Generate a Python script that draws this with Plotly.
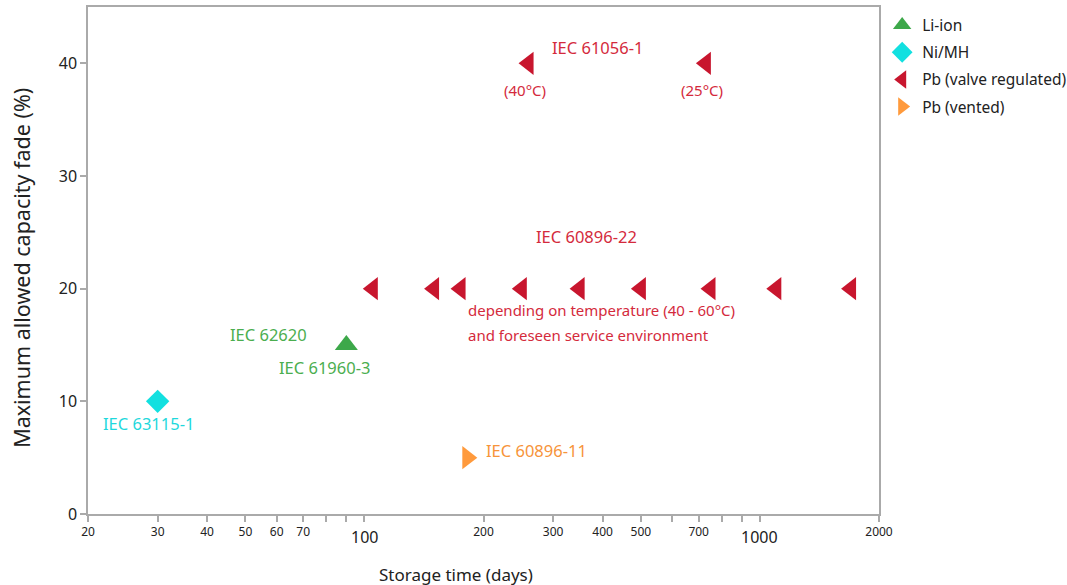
import math
import plotly.graph_objects as go

# ---------------- data ----------------
liion_x = [90]
liion_y = [15]

nimh_x = [30]
nimh_y = [10]

pb_vrla_x = [260, 730, 105, 150, 175, 250, 350, 500, 750, 1100, 1700]
pb_vrla_y = [40, 40, 20, 20, 20, 20, 20, 20, 20, 20, 20]

pb_vented_x = [182]
pb_vented_y = [5]

series_names = ["Li-ion", "Ni/MH", "Pb (valve regulated)", "Pb (vented)"]

x_tickvals = [20, 30, 40, 50, 60, 70, 80, 90, 100, 200, 300, 400, 500, 600, 700, 800, 900, 1000, 2000]
x_ticktext = ["20", "30", "40", "50", "60", "70", "", "", "", "200", "300", "400", "500", "", "700", "", "", "", "2000"]
x_major_labels = [100, 1000]
y_tickvals = [0, 10, 20, 30, 40]

# label texts with (x in days, y in %) anchor, alignment, colour key, kind
labels = [
    ("IEC 61056-1", 294, 41.42, "left", "red", "std"),
    ("(40°C)", 254, 37.6, "center", "red", "note"),
    ("(25°C)", 715, 37.6, "center", "red", "note"),
    ("IEC 60896-22", 364, 24.66, "center", "red", "std"),
    ("depending on temperature (40 - 60°C)", 181, 18.09, "left", "red", "note"),
    ("and foreseen service environment", 181, 15.88, "left", "red", "note"),
    ("IEC 62620", 57.3, 15.96, "center", "green", "std"),
    ("IEC 61960-3", 79.4, 13.04, "center", "green", "std"),
    ("IEC 63115-1", 28.5, 8.07, "center", "cyan", "std"),
    ("IEC 60896-11", 200, 5.68, "left", "orange", "std"),
]

# ---------------- style ----------------
FONT = "Noto Sans"
marker_col = {"green": "#3DA84A", "cyan": "#12E0E0", "red": "#C8162E", "orange": "#FF9A3C"}
text_col = {"green": "#4BAE4F", "cyan": "#1ED8DC", "red": "#D42A3C", "orange": "#F7943A"}
label_size = {"std": 16.5, "note": 15}
AXIS_COL = "#AAAAAA"

fig = go.Figure()

fig.add_trace(go.Scatter(x=liion_x, y=liion_y, mode="markers", name=series_names[0],
                         legendgroup="a",
                         marker=dict(symbol="triangle-up", size=20, color=marker_col["green"])))
fig.add_trace(go.Scatter(x=nimh_x, y=nimh_y, mode="markers", name=series_names[1],
                         legendgroup="b",
                         marker=dict(symbol="diamond", size=18, color=marker_col["cyan"])))
fig.add_trace(go.Scatter(x=pb_vrla_x, y=pb_vrla_y, mode="markers", name=series_names[2],
                         legendgroup="c",
                         marker=dict(symbol="triangle-left", size=20, color=marker_col["red"])))
fig.add_trace(go.Scatter(x=pb_vented_x, y=pb_vented_y, mode="markers", name=series_names[3],
                         legendgroup="d",
                         marker=dict(symbol="triangle-right", size=20, color=marker_col["orange"])))

annotations = []
for txt, lx, ly, align, col, kind in labels:
    annotations.append(dict(x=math.log10(lx), y=ly, xref="x", yref="y", text=txt,
                            showarrow=False, xanchor=align, yanchor="middle",
                            font=dict(family=FONT, size=label_size[kind], color=text_col[col])))
for v in x_major_labels:
    annotations.append(dict(x=math.log10(v), y=0, xref="x", yref="paper", text=str(v),
                            showarrow=False, xanchor="center", yanchor="top", yshift=-10,
                            font=dict(family=FONT, size=16, color="#222222")))
annotations.append(dict(x=(456 - 88) / 791, y=-0.093, xref="paper", yref="paper",
                        text="Storage time (days)", showarrow=False, xanchor="center", yanchor="top",
                        font=dict(family=FONT, size=17, color="#222222")))
annotations.append(dict(x=-0.085, y=0.485, xref="paper", yref="paper", textangle=-90,
                        text="Maximum allowed capacity fade (%)", showarrow=False,
                        xanchor="center", yanchor="middle",
                        font=dict(family=FONT, size=21.5, color="#222222")))

fig.update_layout(
    width=1067, height=585,
    margin=dict(l=88, r=188, t=7, b=71, autoexpand=False),
    paper_bgcolor="white", plot_bgcolor="white",
    font=dict(family=FONT, color="#222222"),
    showlegend=True,
    legend=dict(x=1.004, y=0.997, xanchor="left", yanchor="top",
                font=dict(family=FONT, size=15.5, color="#222222"),
                traceorder="grouped", tracegroupgap=4,
                bgcolor="rgba(0,0,0,0)"),
    annotations=annotations,
    xaxis=dict(type="log", range=[math.log10(20), math.log10(2000)],
               tickmode="array", tickvals=x_tickvals, ticktext=x_ticktext,
               tickfont=dict(family=FONT, size=12, color="#222222"),
               ticks="outside", ticklen=6, tickcolor=AXIS_COL, tickwidth=1.5,
               showline=True, linecolor=AXIS_COL, linewidth=1.5, mirror=True,
               showgrid=False, zeroline=False),
    yaxis=dict(range=[0, 45], tickmode="array", tickvals=y_tickvals,
               tickfont=dict(family=FONT, size=16, color="#222222"),
               ticks="outside", ticklen=6, tickcolor=AXIS_COL, tickwidth=1.5,
               showline=True, linecolor=AXIS_COL, linewidth=1.5, mirror=True,
               showgrid=False, zeroline=False),
)

fig.write_html("out.html")
